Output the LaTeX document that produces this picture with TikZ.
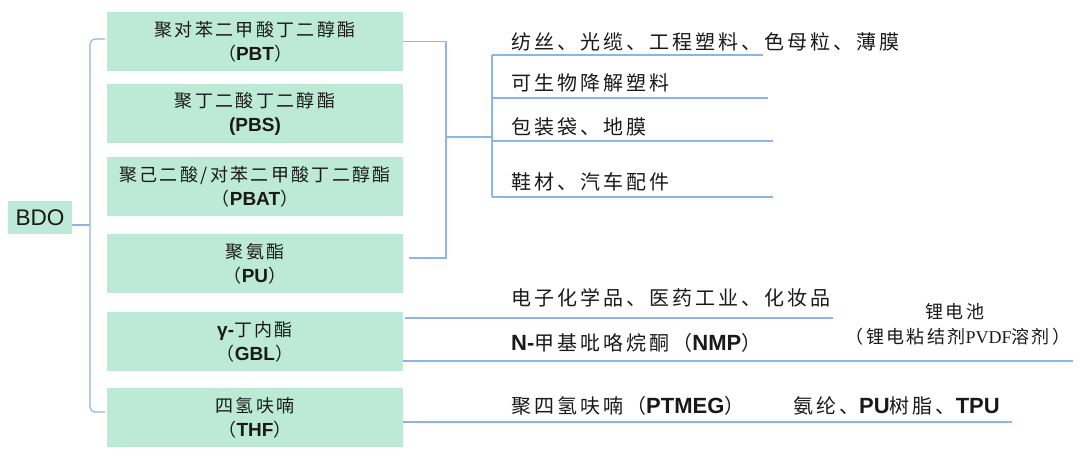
\documentclass[tikz,border=0pt]{standalone}
\usepackage{fontspec}
\setmainfont{Noto Sans CJK SC}[LetterSpace=13]
\newfontfamily\lat{Liberation Sans}
\newfontfamily\latser{Liberation Serif}
\definecolor{boxgreen}{RGB}{189,234,214}
\definecolor{lineblue}{RGB}{142,180,227}
\definecolor{txt}{RGB}{25,25,25}
\newcommand{\lb}[1]{{\lat\bfseries\fontsize{19}{24}\selectfont #1}}
\newcommand{\lbb}[1]{{\lat\bfseries\fontsize{22}{24}\selectfont #1}}
\tikzset{
  mbox/.style={fill=boxgreen, minimum width=296pt, minimum height=59pt, inner sep=0pt,
    align=center, text=txt, font=\fontsize{18}{24}\selectfont},
  conn/.style={draw=lineblue, line width=1.2pt},
  rtext/.style={anchor=west, inner sep=0pt, text=txt, font=\addfontfeatures{LetterSpace=15}\fontsize{20}{24}\selectfont},
}
\begin{document}
\begin{tikzpicture}[x=1pt,y=-1pt]
\useasboundingbox (0,0) rectangle (1080,468);
% BDO
\node[fill=boxgreen, minimum width=64pt, minimum height=33pt, inner sep=0pt, text=txt,
  font=\lat\fontsize{22.6}{24}\selectfont] (bdo) at (40,217.5) {BDO};
% boxes
\node[mbox] (pbt) at (255,41.5) {聚对苯二甲酸丁二醇酯\\（\lb{PBT}）};
\node[mbox] (pbs) at (255,114) {聚丁二酸丁二醇酯\\\lb{(PBS)}};
\node[mbox] (pbat) at (255,186.5) {聚己二酸/对苯二甲酸丁二醇酯\\（\lb{PBAT}）};
\node[mbox] (pu) at (255,263.5) {聚氨酯\\（\lb{PU}）};
\node[mbox] (gbl) at (255,341.5) {\lb{γ-}丁内酯\\（\lb{GBL}）};
\node[mbox] (thf) at (255,417.5) {四氢呋喃\\（\lb{THF}）};
% left bracket
\coordinate (lbT) at (105,39);
\coordinate (lbB) at (105,412);
\coordinate (lbM) at (90,225);
\draw[conn, rounded corners=5pt] (lbT) -- (90,39) -- (90,412) -- (lbB);
\draw[conn] ([yshift=-7.5pt]bdo.east) -- (lbM);
% right bracket 1
\coordinate (rb1T) at (446,41.5);
\coordinate (rb1B) at (446,258);
\coordinate (rb1M) at (446,137);
\coordinate (rb2M) at (492,137);
\draw[conn] (pbt.east) -- (rb1T) -- (rb1B) -- ([xshift=6pt,yshift=5.5pt]pu.east);
\draw[conn] (rb1M) -- (rb2M);
% right bracket 2
\coordinate (rb2T) at (492,55);
\coordinate (rb2B) at (492,197);
\coordinate (e1) at (763,55);
\coordinate (e2) at (768,98);
\coordinate (e3) at (773,141);
\coordinate (e4) at (773,197);
\draw[conn] (rb2T) -- (rb2B);
\draw[conn] (rb2T) -- (e1);
\draw[conn] (492,98) -- (e2);
\draw[conn] (492,141) -- (e3);
\draw[conn] (rb2B) -- (e4);
% texts
\node[rtext] (t1) at (511,42) {纺丝、光缆、工程塑料、色母粒、薄膜};
\node[rtext] (t2) at (511,83) {可生物降解塑料};
\node[rtext] (t3) at (511,127) {包装袋、地膜};
\node[rtext] (t4) at (511,182) {鞋材、汽车配件};
% GBL
\coordinate (g1) at (833,318);
\coordinate (g2) at (1073,361);
\draw[conn] ([xshift=2pt,yshift=23.5pt]gbl.east) -- (g1);
\draw[conn] ([yshift=-19.5pt]gbl.east) -- (g2);
\node[rtext] (t5) at (511,298) {电子化学品、医药工业、化妆品};
\node[rtext] (t6) at (511,343) {\lbb{N-}甲基吡咯烷酮（\lbb{NMP}）};
\node[anchor=center, inner sep=0pt, text=txt, font=\fontsize{18}{24}\selectfont] (li1) at (955,312) {锂电池};
\node[anchor=center, inner sep=0pt, text=txt, font=\fontsize{18}{24}\selectfont] (li2) at (958,337) {（锂电粘结剂{\latser PVDF}溶剂）};
% THF
\coordinate (h1) at (1012,422);
\draw[conn] ([yshift=-4.5pt]thf.east) -- (h1);
\node[rtext] (t7) at (511,406) {聚四氢呋喃（\lbb{PTMEG}）};
\node[rtext] (t8) at (793,406) {氨纶、\lbb{PU}树脂、\lbb{TPU}};
\end{tikzpicture}
\end{document}
